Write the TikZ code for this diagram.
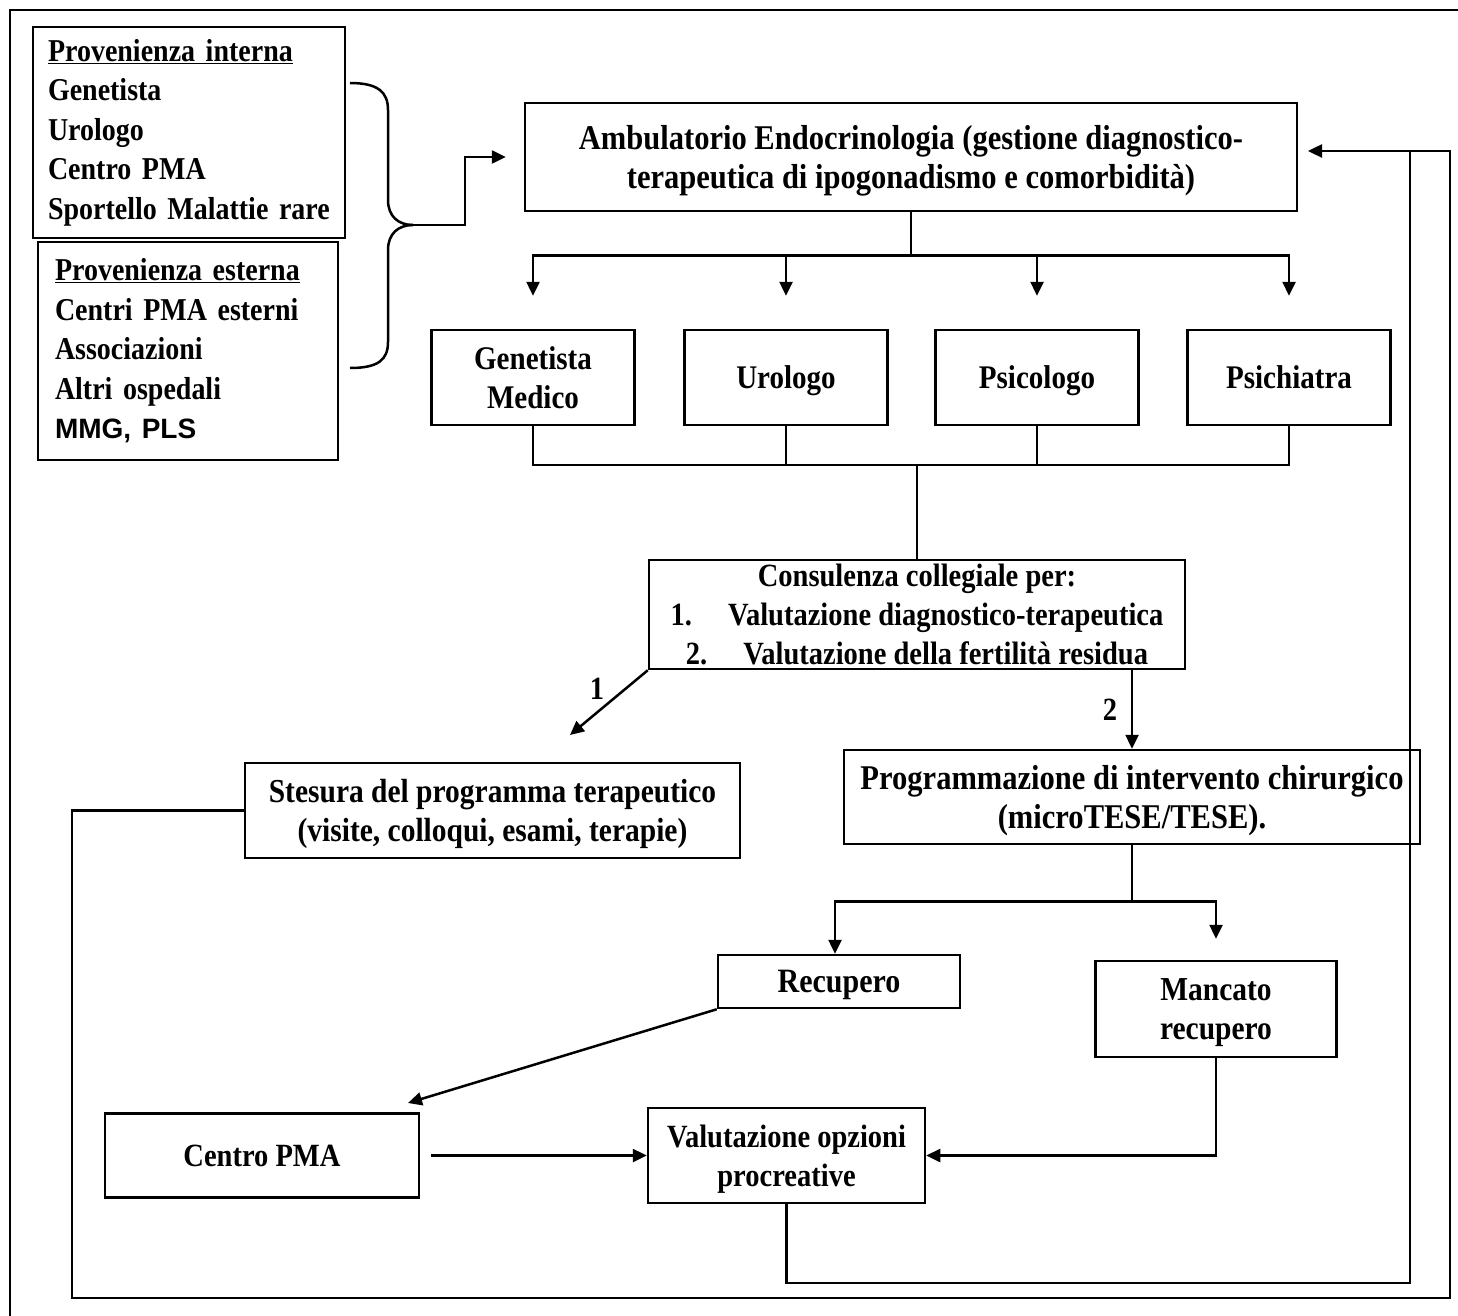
\documentclass[tikz,border=0pt]{standalone}
\usepackage{fontspec}
\setmainfont{Liberation Serif}[FakeStretch=0.88]
\newfontfamily\arialfont{Liberation Sans}
\usetikzlibrary{arrows.meta}
\usetikzlibrary{calc}

\tikzset{
  box/.style 2 args={draw, line width=2.5pt, minimum width=#1pt, minimum height=#2pt, inner sep=0pt, align=center, text depth=0pt},
  size/.style={font=\fontsize{#1}{39}\selectfont\bfseries},
  listbox/.style={font=\fontsize{31.8}{39.5}\selectfont\bfseries, align=left, text depth={}},
  link/.style={line width=2.5pt},
  arr/.style={line width=2.5pt, -{Triangle[length=14pt,width=13pt]}},
}

\begin{document}
\begin{tikzpicture}[x=1pt, y=-1pt, every node/.style={size=32.4}]
      \useasboundingbox (0,0) rectangle (1458,1316);
      \draw[line width=2pt] (10,1316) -- (10,10) -- (1458,10);
      % provenienza
      \node[box={312}{211}, text width=282pt, listbox] (intern) at (189,132.5) {\underline{Provenienza interna}\\Genetista\\Urologo\\Centro PMA\\Sportello Malattie rare};
      \node[box={300}{218}, text width=266pt, listbox] (extern) at (188,351) {\underline{Provenienza esterna}\\Centri PMA esterni\\Associazioni\\Altri ospedali\\{\arialfont\fontsize{28}{39.5}\selectfont MMG, PLS}};
      \node[box={772}{108}, size=34.7] (amb) at (911,157) {Ambulatorio Endocrinologia (gestione diagnostico-\\terapeutica di ipogonadismo e comorbidità)};
      \coordinate (tip) at (413,225);
      \draw[link] (350,83) .. controls (378,83) and (388,92) .. (388,110) -- (388,200) .. controls (388,216) and (398,225) .. (tip);
      \draw[link] (tip) .. controls (398,225) and (388,234) .. (388,250) -- (388,342) .. controls (388,360) and (378,368) .. (350,368);
      \draw[arr] (tip) -- ++(52,0) |- ($(amb.west)+(-18,0)$);
      % specialisti
      \node[box={203}{95}, size=33] (gen) at (533,377.5) {Genetista\\Medico};
      \node[box={203}{95}, size=33] (uro) at (786,377.5) {Urologo};
      \node[box={203}{95}, size=33] (psic) at (1037,377.5) {Psicologo};
      \node[box={203}{95}, size=33] (psich) at (1289,377.5) {Psichiatra};
      \foreach \b in {gen,uro,psic,psich}
        \draw[arr] (amb.south) -- ++(0,43) -| ($(\b.north)+(0,-33)$);
      \node[box={536}{109}] (cons) at (917,614.5) {Consulenza collegiale per:\\1.\hspace{36pt}Valutazione diagnostico-terapeutica\\2.\hspace{36pt}Valutazione della fertilità residua};
      \coordinate (join) at (917,465);
      \foreach \b in {gen,uro,psic,psich}
        \draw[link] (\b.south) |- (join);
      \draw[link] (join) -- (cons.north);
      % percorsi 1 e 2
      \node[box={495}{95}, size=33.5] (stes) at (492.5,810.5) {Stesura del programma terapeutico\\(visite, colloqui, esami, terapie)};
      \node[box={576}{94}, size=34.7] (prog) at (1132,797) {Programmazione di intervento chirurgico\\(microTESE/TESE).};
      \coordinate (end1) at (570,735);
      \draw[arr] (cons.south west) -- (end1);
      \node (lab1) at (597,689) {1};
      \draw[arr] (cons.south -| prog.north) -- (prog.north);
      \node (lab2) at (1110,710) {2};
      % esito
      \node[box={242}{53}, size=34.1] (recup) at (839,981.5) {Recupero};
      \node[box={241}{96}, size=33.5] (manc) at (1216,1009) {Mancato\\recupero};
      \coordinate (split) at ($(prog.south)+(0,56)$);
      \draw[arr] (prog.south) -- (split) -| ($(recup.north)+(-4,0)$);
      \draw[arr] (prog.south) -- (split) -| ($(manc.north)+(0,-21)$);
      \node[box={314}{84}] (pma) at (262,1155.5) {Centro PMA};
      \node[box={277}{95}] (val) at (786.5,1155.5) {Valutazione opzioni\\procreative};
      \coordinate (end2) at (408,1103);
      \draw[arr] (recup.south west) -- (end2);
      \draw[arr] ($(pma.east)+(11,0)$) -- (val.west);
      \draw[arr] (manc.south) |- (val.east);
      % ritorno all'ambulatorio
      \coordinate (back) at (1308,151);
      \coordinate (outerL) at (72,1298);
      \coordinate (outerR) at (1450,1298);
      \coordinate (innerR) at (1410,1283);
      \draw[link] (val.south) |- (innerR) -- (innerR |- back);
      \draw[arr] (stes.west) -| (outerL) -- (outerR) |- (back);
\end{tikzpicture}
\end{document}
